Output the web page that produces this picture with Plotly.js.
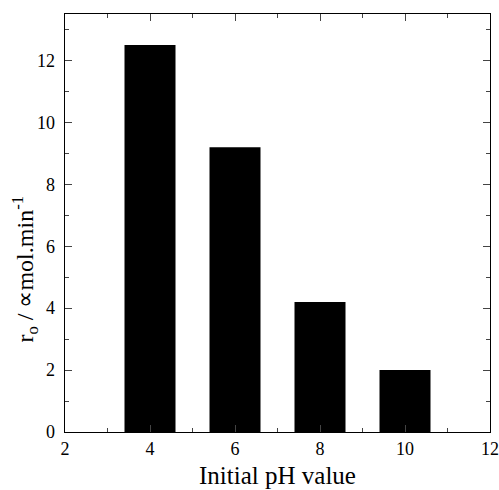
<!DOCTYPE html>
<html><head><meta charset="utf-8">
<script src="https://cdn.plot.ly/plotly-3.0.1.min.js"></script>
<style>html,body{margin:0;padding:0;background:#fff}</style>
</head><body><div id="chart" style="width:499px;height:490px"></div>
<script>
const phValues = [4, 6, 8, 10];
const rates = [12.5, 9.2, 4.2, 2.0];
const xTicks = [2, 4, 6, 8, 10, 12];
const yTicks = [0, 2, 4, 6, 8, 10, 12];
const xTitle = 'Initial pH value';
const yTitle = 'r<sub>o</sub> / ∝mol.min<sup>-1</sup>';

const font = {family: '"Liberation Serif", "Times New Roman", serif', color: '#000'};
Plotly.newPlot('chart', [{
  type: 'bar', x: phValues, y: rates, width: 1.2,
  marker: {color: '#000', line: {width: 0}}
}], {
  width: 499, height: 490,
  margin: {l: 65, r: 9, t: 14, b: 58},
  paper_bgcolor: '#fff', plot_bgcolor: '#fff',
  showlegend: false,
  xaxis: {
    range: [2, 12], tickvals: xTicks, ticks: 'inside', ticklen: 7, tickwidth: 1,
    minor: {dtick: 1, tick0: 3, ticks: 'inside', ticklen: 4, tickwidth: 1, showgrid: false},
    showline: true, linewidth: 1.3, linecolor: '#000', mirror: 'ticks',
    showgrid: false, zeroline: false,
    tickfont: {...font, size: 18},
    title: {text: xTitle, font: {...font, size: 25}, standoff: 8}
  },
  yaxis: {
    range: [0, 13.5], tickvals: yTicks, ticks: 'inside', ticklen: 7, tickwidth: 1,
    minor: {dtick: 1, tick0: 1, ticks: 'inside', ticklen: 4, tickwidth: 1, showgrid: false},
    showline: true, linewidth: 1.3, linecolor: '#000', mirror: 'ticks',
    showgrid: false, zeroline: false, ticklabelstandoff: 5,
    tickfont: {...font, size: 18}
  },
  annotations: [{
    text: yTitle, textangle: -90, showarrow: false,
    xref: 'paper', yref: 'paper', x: -0.095, y: 0.39,
    xanchor: 'center', yanchor: 'middle',
    font: {...font, size: 24}
  }]
}, {staticPlot: true});
</script></body></html>
